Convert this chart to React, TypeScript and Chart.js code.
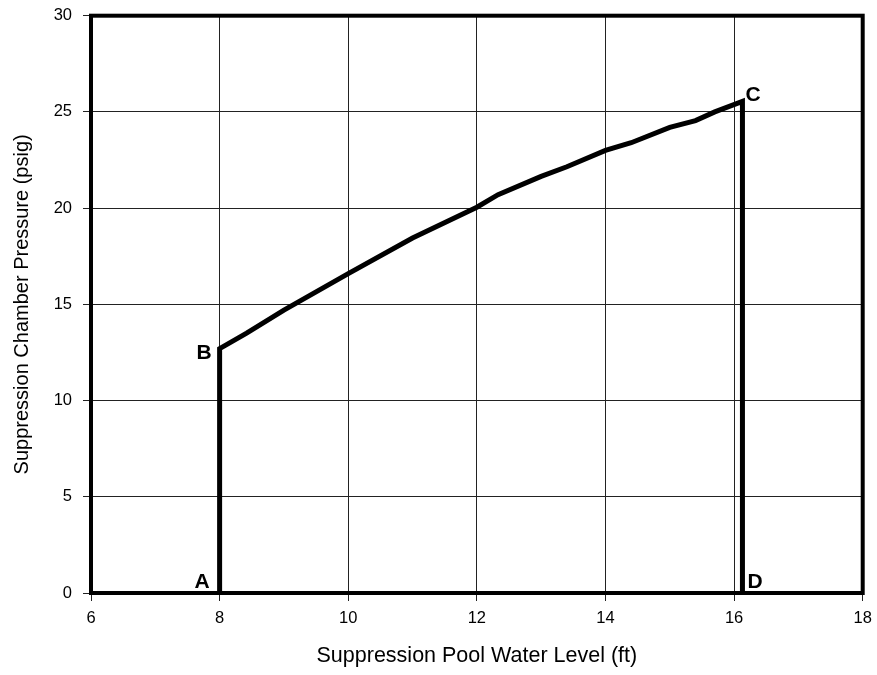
import React, { useEffect, useRef } from "react";
import { Chart, registerables } from "chart.js";

Chart.register(...registerables);

// Curve A -> B -> C -> D (water level ft, pressure psig)
const levelFt = [8, 8, 8.42, 9, 10, 11, 12, 12.33, 13, 13.4, 14, 14.4, 15, 15.4, 15.7, 16.13, 16.13];
const pressurePsig = [0, 12.7, 13.5, 14.7, 16.6, 18.45, 20.05, 20.7, 21.65, 22.15, 23.0, 23.4, 24.2, 24.55, 25.0, 25.55, 0];

// Point labels
const pointNames = ["A", "B", "C", "D"];
const pointLevel = [8, 8, 16.13, 16.13];
const pointPressure = [0, 12.7, 25.55, 0];

const xTitle = "Suppression Pool Water Level (ft)";
const yTitle = "Suppression Chamber Pressure (psig)";

const FONT = "'Liberation Sans', Arial, Helvetica, sans-serif";

const framePlugin = {
  id: "frame",
  afterDatasetsDraw(chart: any) {
    const { ctx, chartArea } = chart;
    ctx.save();
    ctx.strokeStyle = "#000";
    ctx.lineWidth = 4;
    ctx.strokeRect(chartArea.left, chartArea.top, chartArea.right - chartArea.left, chartArea.bottom - chartArea.top);
    ctx.restore();
  },
};

const labelPlugin = {
  id: "pointLabels",
  afterDraw(chart: any) {
    const { ctx } = chart;
    const xs = chart.scales.x;
    const ys = chart.scales.y;
    ctx.save();
    ctx.font = `bold 21px ${FONT}`;
    ctx.fillStyle = "#000";
    pointNames.forEach((name, i) => {
      const px = xs.getPixelForValue(pointLevel[i]);
      const py = ys.getPixelForValue(pointPressure[i]);
      if (name === "A") {
        ctx.textAlign = "right";
        ctx.textBaseline = "alphabetic";
        ctx.fillText(name, px - 10, py - 5);
      } else if (name === "B") {
        ctx.textAlign = "right";
        ctx.textBaseline = "middle";
        ctx.fillText(name, px - 8, py + 5);
      } else if (name === "C") {
        ctx.textAlign = "left";
        ctx.textBaseline = "middle";
        ctx.fillText(name, px + 3, py - 6);
      } else {
        ctx.textAlign = "left";
        ctx.textBaseline = "alphabetic";
        ctx.fillText(name, px + 5, py - 5);
      }
    });
    ctx.restore();
  },
};

export default function App() {
  const canvasRef = useRef<HTMLCanvasElement | null>(null);

  useEffect(() => {
    if (!canvasRef.current) return;
    const data = levelFt.map((x, i) => ({ x, y: pressurePsig[i] }));
    const chart = new Chart(canvasRef.current, {
      type: "line",
      data: {
        datasets: [
          {
            data,
            borderColor: "#000",
            borderWidth: 5,
            pointRadius: 0,
            tension: 0,
            fill: false,
            borderJoinStyle: "miter",
            borderCapStyle: "butt",
            clip: false,
          } as any,
        ],
      },
      options: {
        animation: false,
        responsive: true,
        maintainAspectRatio: false,
        layout: { padding: { top: 15.7, right: 14.3, left: 0, bottom: 0 } },
        plugins: { legend: { display: false }, tooltip: { enabled: false } },
        scales: {
          x: {
            type: "linear",
            min: 6,
            max: 18,
            ticks: {
              stepSize: 2,
              color: "#000",
              font: { family: FONT, size: 16.5 },
              padding: 8,
            },
            grid: { color: "#222", lineWidth: 1, tickLength: 8 },
            border: { display: false },
            title: {
              display: true,
              text: xTitle,
              color: "#000",
              font: { family: FONT, size: 21.5 },
              padding: { top: 0, bottom: 6 },
            },
            afterFit: (s: any) => {
              s.height = 82;
              s.paddingLeft = 0;
              s.paddingRight = 0;
            },
          },
          y: {
            type: "linear",
            min: 0,
            max: 30,
            ticks: {
              stepSize: 5,
              color: "#000",
              font: { family: FONT, size: 16.5 },
              padding: 11,
            },
            grid: { color: "#222", lineWidth: 1, tickLength: 8 },
            border: { display: false },
            title: {
              display: true,
              text: yTitle,
              color: "#000",
              font: { family: FONT, size: 20 },
              padding: { top: 10, bottom: 0 },
            },
            afterFit: (s: any) => {
              s.width = 91;
              s.paddingTop = 0;
              s.paddingBottom = 0;
            },
          },
        },
      },
      plugins: [framePlugin, labelPlugin],
    });
    return () => chart.destroy();
  }, []);

  return (
    <div style={{ position: "absolute", left: 0, top: 0, width: 877, height: 675, background: "#fff" }}>
      <canvas ref={canvasRef} />
    </div>
  );
}
